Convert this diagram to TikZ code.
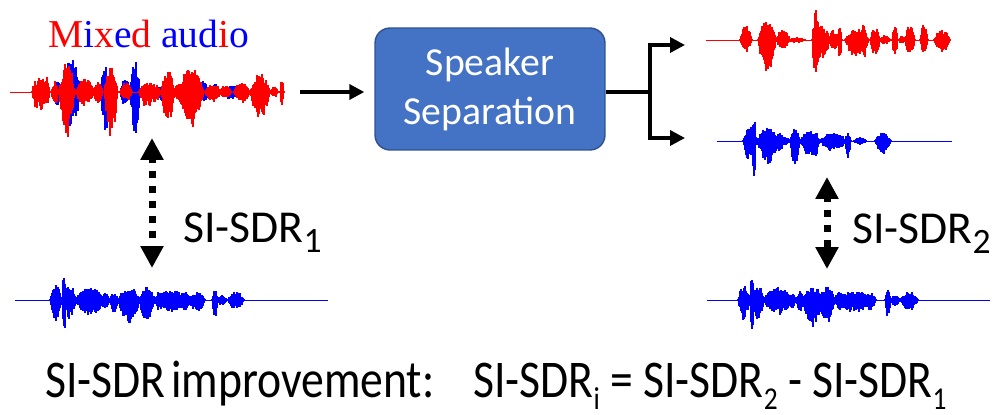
\documentclass[tikz,border=0pt]{standalone}
\usepackage{fontspec}
\setmainfont{Carlito}
\newfontfamily\serifmix{Liberation Serif}
\usepackage{graphicx}
\usetikzlibrary{arrows.meta}
\definecolor{boxblue}{HTML}{4472C4}
\definecolor{boxedge}{HTML}{2F528F}
\definecolor{wavered}{HTML}{FF0000}
\definecolor{waveblue}{HTML}{0000FF}

% one burst of a waveform: centre, half width, up, down, baseline
\newcommand{\burst}[5]{%
	\pgfmathtruncatemacro{\brn}{2*#2}
	\foreach \k in {0,...,\brn} {
		\pgfmathsetmacro{\brt}{(\k-#2)*(\k-#2)/(#2*#2)}
		\pgfmathsetmacro{\bru}{#3*(1-\brt)*(0.5+0.5*rnd)+0.8}
		\pgfmathsetmacro{\brd}{#4*(1-\brt)*(0.5+0.5*rnd)+0.8}
		\draw (#1-#2+\k,#5-\bru) -- (#1-#2+\k,#5+\brd);
	}}
% a waveform: colour, baseline, start, end, bursts
\newcommand{\wave}[5]{%
	\begin{scope}[#1, line width=0.7pt]
		\draw[line width=0.5pt] (#3,#2) -- (#4,#2);
		\foreach \bcen/\bhw/\bup/\bdn in {#5} {\burst{\bcen}{\bhw}{\bup}{\bdn}{#2}}
	\end{scope}}
\newcommand{\labsub}[1]{\raisebox{-0.24em}{\scalebox{0.78}{#1}}}
\newcommand{\eqsub}[1]{\raisebox{-0.23em}{\scalebox{0.6}{#1}}}

\begin{document}
\begin{tikzpicture}[x=0.02cm, y=-0.02cm,
		flow/.style={line width=0.07cm, -{Triangle[length=0.3cm, width=0.3cm]}},
		forkline/.style={line width=0.07cm},
		simarrow/.style={line width=0.14cm, dash pattern=on 0.14cm off 0.16cm, dash phase=0.06cm,
			{Triangle[length=0.44cm, width=0.44cm]}-{Triangle[length=0.44cm, width=0.44cm]}},
		sepbox/.style={draw=boxedge, line width=0.8pt, fill=boxblue, rounded corners=0.3cm,
			minimum width=4.6cm, minimum height=2.44cm, align=center, text=white,
			font=\fontsize{22.6}{27.9}\selectfont},
		sdrlabel/.style={inner sep=0, anchor=base west, font=\fontsize{26}{30}\selectfont}]
	\useasboundingbox (0,0) rectangle (1003,415);
	\pgfmathsetseed{11}

	% mixed audio
	\node[inner sep=0, anchor=base west, font=\serifmix\fontsize{22.5}{27}\selectfont] (mixlabel) at (48,48)
		{\textcolor{wavered}{M}\textcolor{waveblue}{i}\textcolor{wavered}{x}\textcolor{waveblue}{e}\textcolor{wavered}{d} \textcolor{waveblue}{aud}\textcolor{wavered}{i}\textcolor{waveblue}{o}};
	\wave{waveblue}{92}{10}{30}{71/11/33/38, 57/4/12/15, 106/6/28/40, 125/5/15/15, 135/5/33/43,
		165/10/8/10, 202/8/10/10, 215/5/8/8, 231/7/8/8}
	\wave{wavered}{92}{10}{283}{36/4/12/17, 41/5/17/20, 47/3/14/16, 55/4/10/12, 67/8/30/45, 85/10/13/13,
		98/5/10/12, 111/7/26/44, 126/6/10/10, 147/8/11/16, 155/6/8/10, 168/7/22/30, 178/4/10/10,
		191/13/24/36, 213/8/8/10, 225/6/6/6, 242/8/11/11, 260/10/18/28, 274/4/5/5, 282/2/13/17}

	% separation
	\node[sepbox] (sep) at (490,89) {Speaker\\Separation};
	\coordinate (mixend) at (300,92);
	\draw[flow] (mixend) -- ([xshift=-0.2cm]mixend -| sep.west);
	\coordinate (fork) at (650,92);
	\coordinate (estone) at (685,45);
	\coordinate (esttwo) at (685,138);
	\draw[forkline] (fork -| sep.east) -- (fork);
	\draw[flow] (fork) |- (estone);
	\draw[flow] (fork) |- (esttwo);

	% estimated sources
	\wave{wavered}{40}{706}{950}{746/6/15/12, 767/9/21/35, 783/7/12/10, 797/8/2/2, 816/4/29/42,
		822/8/15/20, 834/5/10/12, 840/2/15/25, 857/12/11/18, 864/3/18/24, 875/5/13/18,
		885/5/4/4, 895/3/14/17, 902/3/4/4, 910/5/15/15, 924/4/15/13, 942/8/10/12}
	\wave{waveblue}{141}{717}{952}{750/7/15/20, 754/2/28/47, 768/11/14/22, 780/4/8/10, 785/5/4/5,
		795/5/12/26, 810/10/10/15, 816/2/10/22, 832/12/8/10, 840/5/6/8, 848/3/9/19, 860/6/3/3, 883/8/8/12}

	% references
	\wave{waveblue}{300}{15}{328}{56/6/15/20, 64/2/28/40, 70/6/15/20, 90/15/12/15, 105/5/6/8, 114/4/8/12,
		129/11/13/23, 147/8/12/22, 147/2/15/30, 160/6/8/10, 172/17/10/12, 185/6/8/10, 197/8/8/12,
		215/3/10/20, 222/5/4/5, 236/8/8/10}
	\wave{waveblue}{300}{707}{990}{744/6/15/20, 752/2/28/40, 758/6/15/20, 778/15/12/15, 792/5/6/8,
		800/4/8/12, 813/11/13/27, 827/8/13/25, 840/6/8/10, 855/20/8/12, 870/6/8/10, 888/3/10/20,
		895/5/4/5, 909/9/8/10}

	% SI-SDR arrows
	\coordinate (mixbot) at (152,138);
	\coordinate (refonetop) at (152,268);
	\draw[simarrow] (mixbot) -- (refonetop);
	\node[sdrlabel] (sdrone) at (183,242) {SI-SDR\labsub{1}};
	\coordinate (esttwobot) at (827,177);
	\coordinate (reftwotop) at (827,269);
	\draw[simarrow] (esttwobot) -- (reftwotop);
	\node[sdrlabel] (sdrtwo) at (852,243) {SI-SDR\labsub{2}};

	% improvement
	\node[sdrlabel] (impr) at (45,397) {\scalebox{1}[1.16]{SI-SDR\hspace{0.12em}improvement:}};
	\node[sdrlabel] (formula) at (473,397) {\scalebox{1}[1.16]{SI-SDR\eqsub{i} = SI-SDR\eqsub{2} - SI-SDR\eqsub{1}}};
\end{tikzpicture}
\end{document}
